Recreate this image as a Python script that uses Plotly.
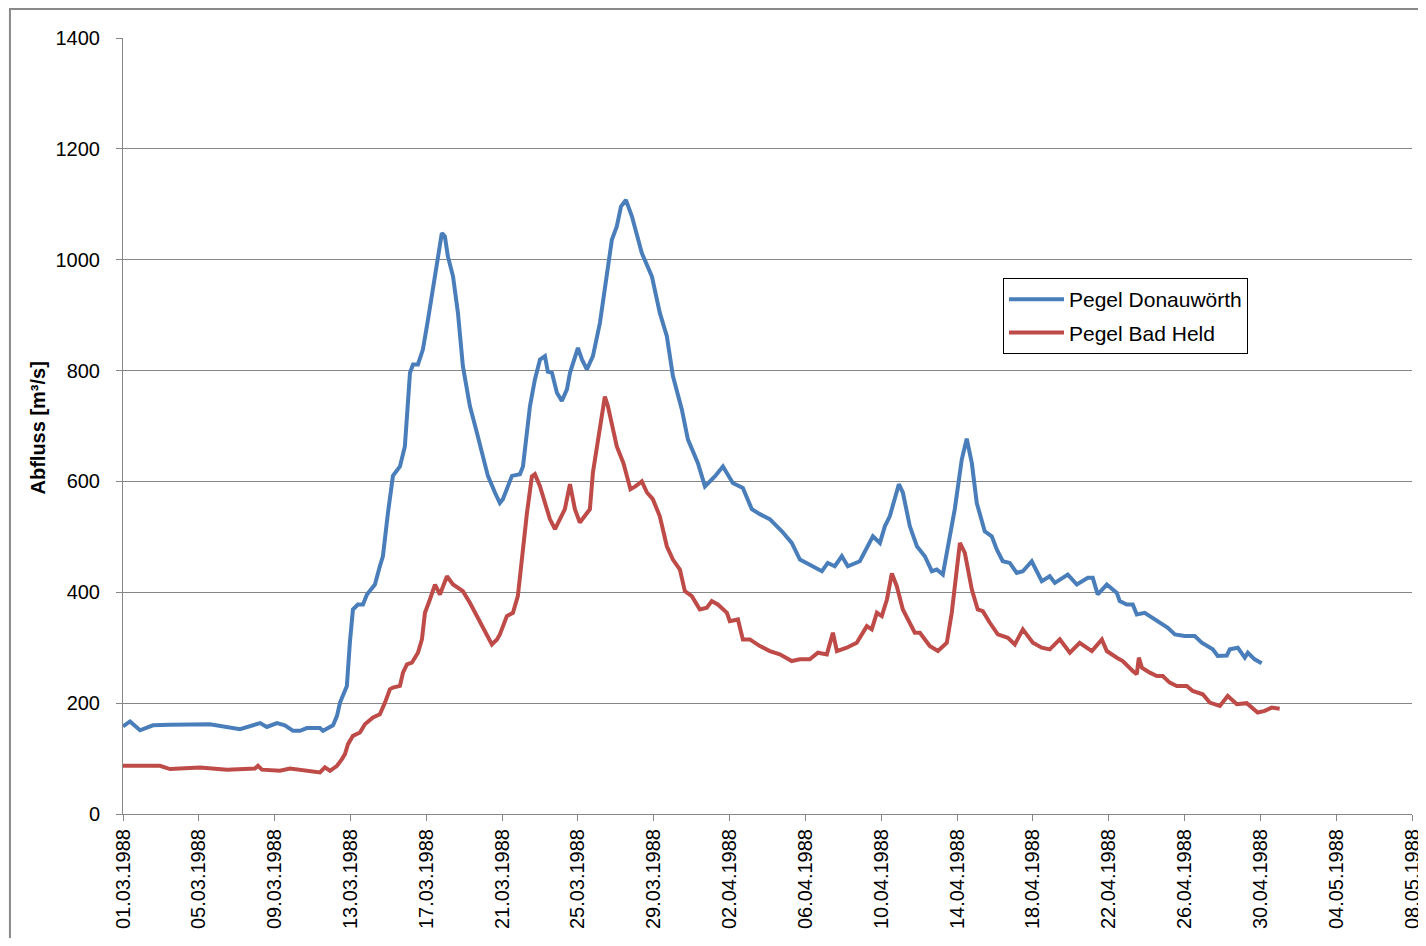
import pandas as pd
import plotly.graph_objects as go

START = pd.Timestamp("1988-03-01")

# Pegel Donauwörth: days since 01.03.1988, discharge m³/s
donau_days = [0.0, 0.37, 0.90, 1.58, 2.48, 4.59, 6.17, 7.23, 7.59, 8.12, 8.54, 8.97, 9.34, 9.70,
              10.39, 10.55, 11.08, 11.29, 11.45, 11.81, 11.97, 12.13, 12.39, 12.66, 12.87, 13.29,
              13.55, 13.71, 13.98, 14.24, 14.61, 14.87, 15.14, 15.30, 15.56, 15.82, 16.09, 16.56,
              16.82, 16.98, 17.14, 17.41, 17.67, 17.93, 18.30, 18.67, 18.99, 19.25, 19.62, 19.88,
              20.04, 20.52, 20.94, 21.10, 21.47, 21.73, 22.00, 22.26, 22.41, 22.63, 22.89, 23.15,
              23.42, 23.58, 24.00, 24.21, 24.47, 24.79, 25.16, 25.42, 25.79, 26.05, 26.27, 26.53,
              26.85, 27.37, 27.90, 28.32, 28.69, 29.01, 29.48, 29.80, 30.33, 30.70, 31.22, 31.65,
              32.17, 32.70, 33.17, 33.60, 34.12, 34.76, 35.28, 35.71, 36.39, 36.87, 37.18, 37.55,
              37.92, 38.24, 38.87, 39.56, 39.93, 40.19, 40.45, 40.93, 41.14, 41.51, 41.88, 42.30,
              42.67, 42.93, 43.25, 43.51, 43.88, 44.25, 44.51, 44.78, 45.04, 45.46, 45.83, 46.10,
              46.41, 46.78, 47.15, 47.47, 47.94, 48.47, 48.89, 49.16, 49.84, 50.32, 50.90, 51.16,
              51.42, 51.90, 52.43, 52.58, 52.95, 53.27, 53.48, 53.90, 54.32, 54.69, 55.12, 55.49,
              56.01, 56.54, 56.91, 57.49, 57.75, 58.23, 58.39, 58.81, 59.18, 59.34, 59.70, 60.07]
donau_q = [158, 167, 151, 160, 161, 162, 153, 164, 157, 164, 160, 150, 150, 155,
           155, 150, 160, 177, 201, 231, 310, 369, 378, 378, 396, 414,
           447, 465, 544, 610, 627, 663, 796, 811, 811, 838, 892, 1000,
           1048, 1042, 1006, 970, 904, 808, 736, 688, 645, 610, 580, 561,
           568, 610, 613, 627, 736, 784, 820, 826, 798, 796, 760, 745,
           766, 796, 841, 820, 802, 826, 886, 952, 1036, 1060, 1096, 1108,
           1078, 1012, 970, 904, 862, 790, 730, 676, 633, 591, 609, 627,
           597, 588, 550, 541, 532, 510, 489, 459, 447, 438, 453, 447,
           465, 447, 456, 501, 489, 519, 537, 595, 580, 519, 483, 465,
           438, 441, 432, 477, 550, 640, 677, 633, 561, 510, 501, 477,
           456, 453, 435, 438, 456, 420, 429, 417, 432, 414, 426, 426,
           396, 414, 399, 384, 378, 378, 360, 363, 354, 345, 336, 324,
           321, 321, 309, 297, 285, 286, 297, 300, 282, 291, 279, 272]

# Pegel Bad Held: days since 01.03.1988, discharge m³/s
held_days = [0.0, 1.95, 2.48, 4.06, 5.49, 6.96, 7.12, 7.33, 8.28, 8.81, 10.39, 10.65, 10.92, 11.29,
             11.55, 11.71, 11.87, 12.13, 12.50, 12.76, 13.19, 13.55, 13.82, 14.08, 14.24, 14.61,
             14.77, 14.98, 15.24, 15.56, 15.77, 15.93, 16.19, 16.46, 16.72, 17.09, 17.41, 17.67,
             17.93, 18.30, 18.67, 18.99, 19.46, 19.73, 19.88, 20.25, 20.57, 20.83, 21.04, 21.31,
             21.57, 21.73, 22.00, 22.26, 22.52, 22.79, 23.05, 23.31, 23.58, 23.84, 24.10, 24.47,
             24.63, 24.79, 25.00, 25.26, 25.42, 25.58, 25.79, 26.05, 26.40, 26.77, 27.03, 27.37,
             27.64, 27.95, 28.32, 28.69, 29.01, 29.38, 29.64, 30.01, 30.43, 30.80, 31.06, 31.38,
             31.86, 32.01, 32.44, 32.70, 33.07, 33.60, 34.12, 34.65, 35.28, 35.71, 36.23, 36.66,
             37.13, 37.45, 37.66, 38.18, 38.71, 39.24, 39.50, 39.77, 40.03, 40.30, 40.56, 40.82,
             41.14, 41.40, 41.77, 42.04, 42.56, 42.99, 43.46, 43.72, 44.15, 44.41, 44.78, 45.09,
             45.36, 45.73, 46.15, 46.68, 47.05, 47.47, 48.00, 48.47, 48.89, 49.42, 49.95, 50.47,
             51.11, 51.64, 51.90, 52.43, 52.74, 53.27, 53.48, 53.59, 53.75, 54.17, 54.54, 54.85,
             55.22, 55.59, 56.12, 56.43, 56.96, 57.33, 57.86, 58.28, 58.76, 59.28, 59.86, 60.23,
             60.60, 61.02]
held_q = [87, 87, 81, 84, 80, 82, 87, 80, 78, 82, 75, 84, 78, 87,
          99, 108, 126, 141, 147, 162, 174, 180, 201, 225, 228, 231,
          255, 270, 273, 291, 315, 363, 387, 414, 396, 429, 414, 408,
          402, 381, 357, 339, 306, 315, 324, 357, 363, 393, 465, 543,
          609, 613, 591, 561, 532, 514, 532, 550, 595, 550, 526, 543,
          550, 616, 663, 724, 753, 736, 700, 663, 633, 586, 591, 600,
          580, 568, 537, 483, 459, 441, 402, 393, 369, 372, 384, 378,
          363, 348, 351, 315, 315, 303, 294, 288, 276, 279, 279, 291,
          288, 327, 294, 300, 309, 339, 333, 363, 357, 387, 434, 411,
          369, 351, 327, 327, 303, 294, 309, 363, 489, 471, 405, 369,
          366, 345, 324, 318, 306, 333, 309, 300, 297, 315, 291, 309,
          294, 315, 294, 282, 276, 258, 252, 282, 264, 255, 249, 249,
          237, 231, 231, 222, 216, 201, 195, 213, 198, 200, 183, 186,
          192, 190]

donau_x = START + pd.to_timedelta(donau_days, unit="D")
held_x = START + pd.to_timedelta(held_days, unit="D")

GRAY = "#868686"
FONT = "Liberation Sans, Arial, sans-serif"

fig = go.Figure()
fig.add_trace(go.Scatter(x=donau_x, y=donau_q, mode="lines", name="Pegel Donauwörth",
                         line=dict(color="#4A7EBB", width=4), legendgroup="a"))
fig.add_trace(go.Scatter(x=held_x, y=held_q, mode="lines", name="Pegel Bad Held",
                         line=dict(color="#BE4B48", width=4), legendgroup="b"))

fig.update_layout(
    width=1410, height=930,
    margin=dict(l=115, r=6, t=30, b=124),
    paper_bgcolor="white", plot_bgcolor="white",
    font=dict(family=FONT, size=20, color="black"),
    showlegend=True,
    legend=dict(x=0.6827, y=0.6907, xanchor="left", yanchor="top",
                bordercolor="black", borderwidth=1, bgcolor="white",
                font=dict(size=21), tracegroupgap=3, traceorder="grouped",
                itemwidth=55),
    xaxis=dict(
        type="date",
        range=["1988-03-01", "1988-05-08"],
        tick0="1988-03-01", dtick=4 * 86400000,
        tickformat="%d.%m.%Y", tickangle=-90,
        showgrid=False, zeroline=False,
        showline=True, linecolor=GRAY, linewidth=1,
        ticks="outside", ticklen=6, tickcolor=GRAY,
        tickfont=dict(size=20), ticklabeloverflow="allow",
        automargin=False,
    ),
    yaxis=dict(
        range=[0, 1400], dtick=200,
        showgrid=True, gridcolor=GRAY, gridwidth=1,
        zeroline=False,
        showline=True, linecolor=GRAY, linewidth=1,
        ticks="outside", ticklen=6, tickcolor=GRAY,
        tickfont=dict(size=20), ticklabelstandoff=12,
        automargin=False,
    ),
    annotations=[dict(
        text="<b>Abfluss [m³/s]</b>", textangle=-90,
        xref="paper", yref="paper", x=-0.066, y=0.498,
        xanchor="center", yanchor="middle", showarrow=False,
        font=dict(size=20, family=FONT),
    )],
    shapes=[dict(
        type="rect", xref="paper", yref="paper",
        x0=-0.0877, y0=-0.25, x1=1.05, y1=1.0374,
        line=dict(color="#898989", width=2), fillcolor="rgba(0,0,0,0)", layer="below",
    )],
)

fig.write_html("out.html")
